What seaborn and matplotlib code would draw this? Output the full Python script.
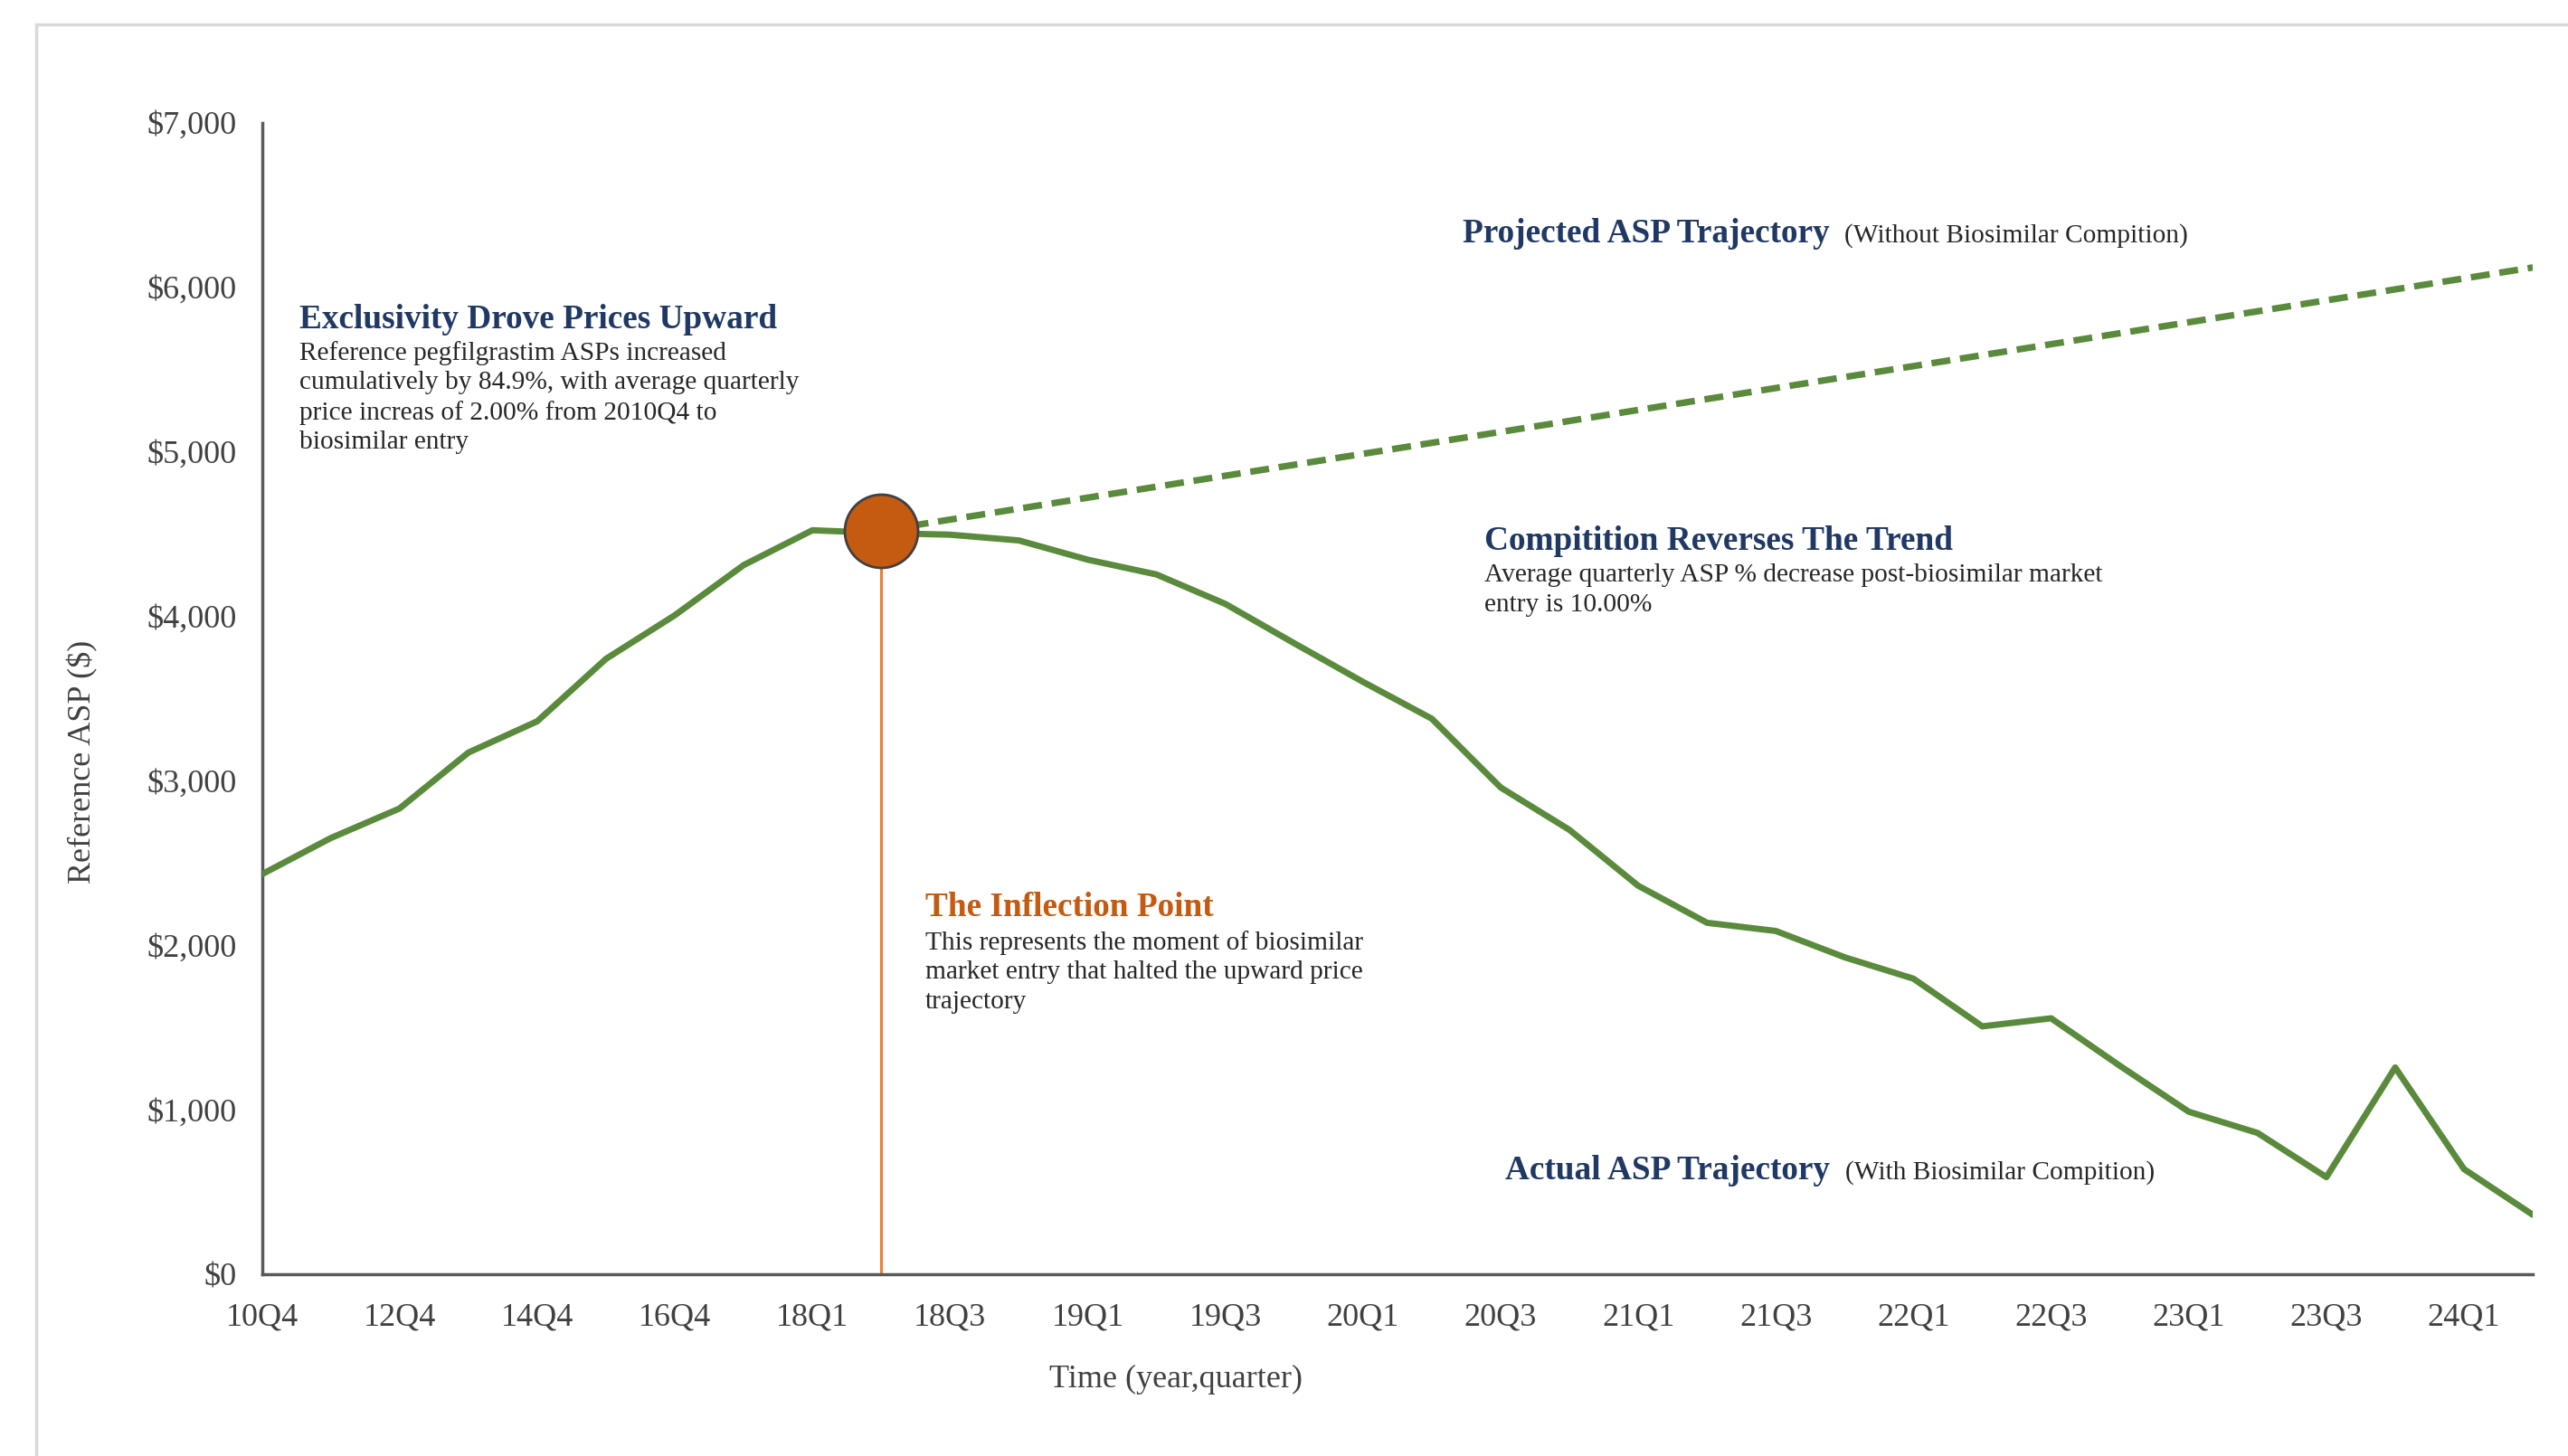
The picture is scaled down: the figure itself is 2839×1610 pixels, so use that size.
"""
Reference pegfilgrastim ASP: actual trajectory vs projected (no biosimilar competition).
"""
import matplotlib
matplotlib.use("Agg")  # Non-interactive backend
import matplotlib.pyplot as plt
from matplotlib.lines import Line2D
from matplotlib.ticker import FuncFormatter
import pandas as pd
import seaborn as sns

# ── Data ─────────────────────────────────────────────────────────────────
quarters = ["10Q4", "11Q4", "12Q4", "13Q4", "14Q4", "15Q4", "16Q4", "17Q4",
            "18Q1", "18Q2", "18Q3", "18Q4", "19Q1", "19Q2", "19Q3", "19Q4",
            "20Q1", "20Q2", "20Q3", "20Q4", "21Q1", "21Q2", "21Q3", "21Q4",
            "22Q1", "22Q2", "22Q3", "22Q4", "23Q1", "23Q2", "23Q3", "23Q4",
            "24Q1", "24Q2"]
actual_asp = [2430, 2650, 2830, 3170, 3360, 3740, 4005, 4310,
              4522, 4505, 4495, 4460, 4343, 4253, 4074, 3835,
              3600, 3376, 2958, 2700, 2360, 2135, 2085, 1925,
              1795, 1505, 1554, 1265, 986, 857, 588, 1255,
              637, 359]

projected_quarters = ["18Q2", "24Q2"]
projected_asp = [4520, 6120]

entry_quarter = "18Q2"
entry_asp = 4520

tick_labels = quarters[::2]
y_ticks = [0, 1000, 2000, 3000, 4000, 5000, 6000, 7000]

# ── Style ────────────────────────────────────────────────────────────────
GREEN = "#5a8a3c"
NAVY = "#1f3864"
ORANGE_DARK = "#c55a11"
ORANGE_LINE = "#ed7d31"
BODY = "#262626"
GREY = "#404040"
SPINE = "#595959"
TITLE_SIZE = 26.8
BODY_SIZE = 21.2
LINE_SP = 1.32

sns.set_style("white")
plt.rcParams["font.family"] = ["Liberation Serif", "DejaVu Serif"]

pos = {q: i for i, q in enumerate(quarters)}
actual_df = pd.DataFrame({"pos": [pos[q] for q in quarters], "asp": actual_asp})
proj_df = pd.DataFrame({"pos": [pos[q] for q in projected_quarters], "asp": projected_asp})

fig = plt.figure(figsize=(28.39, 16.10), dpi=100)
ax = fig.add_axes([0.102, 0.1251, 0.8843, 0.7906])

sns.lineplot(data=proj_df, x="pos", y="asp", ax=ax, color=GREEN, linewidth=5.2,
             linestyle=(0, (2.9, 1.5)), zorder=3)
sns.lineplot(data=actual_df, x="pos", y="asp", ax=ax, color=GREEN, linewidth=5,
             zorder=4)

# inflection marker + leader line
ax.vlines(pos[entry_quarter], 0, entry_asp, color=ORANGE_LINE, linewidth=2.2, zorder=2)
sns.scatterplot(x=[pos[entry_quarter]], y=[entry_asp], ax=ax, s=3400,
                color=ORANGE_DARK, edgecolor=GREY, linewidth=2, zorder=6)

# axes
ax.set_xlim(0, len(quarters) - 1)
ax.set_ylim(0, 7000)
ax.set_xticks(range(0, len(quarters), 2))
ax.set_xticklabels(tick_labels)
ax.set_yticks(y_ticks)
ax.yaxis.set_major_formatter(FuncFormatter(lambda v, _: f"${v:,.0f}"))
ax.tick_params(axis="both", direction="out", length=8, width=1.8, color=SPINE,
               labelsize=26, labelcolor=GREY)
ax.tick_params(axis="x", pad=15)
ax.tick_params(axis="y", pad=12)
for side in ["top", "right"]:
    ax.spines[side].set_visible(False)
for side in ["left", "bottom"]:
    ax.spines[side].set_color(SPINE)
    ax.spines[side].set_linewidth(2.5)

ax.set_xlabel("Time (year,quarter)", fontsize=26, color=GREY)
ax.xaxis.set_label_coords(0.4025, -0.079)
ax.set_ylabel("Reference ASP ($)", fontsize=26, color=GREY)
ax.yaxis.set_label_coords(-0.072, 0.445)

# ── Annotations ──────────────────────────────────────────────────────────
ax.text(0.55, 5800, "Exclusivity Drove Prices Upward", fontsize=TITLE_SIZE,
        fontweight="bold", color=NAVY, va="center", ha="left")
ax.text(0.55, 5675,
        "Reference pegfilgrastim ASPs increased\n"
        "cumulatively by 84.9%, with average quarterly\n"
        "price increas of 2.00% from 2010Q4 to\n"
        "biosimilar entry",
        fontsize=BODY_SIZE, color=BODY, va="top", ha="left", linespacing=LINE_SP)

t_proj = ax.text(17.45, 6275, "Projected ASP Trajectory", fontsize=TITLE_SIZE,
                 fontweight="bold", color=NAVY, va="baseline", ha="left")
ax.annotate("(Without Biosimilar Compition)", xy=(1, 6275), xycoords=(t_proj, "data"),
            xytext=(12, 0), textcoords="offset points", fontsize=BODY_SIZE, color=BODY,
            va="baseline", ha="left")

ax.text(17.77, 4455, "Compitition Reverses The Trend", fontsize=TITLE_SIZE,
        fontweight="bold", color=NAVY, va="center", ha="left")
ax.text(17.77, 4318,
        "Average quarterly ASP % decrease post-biosimilar market\n"
        "entry is 10.00%",
        fontsize=BODY_SIZE, color=BODY, va="top", ha="left", linespacing=LINE_SP)

ax.text(9.64, 2225, "The Inflection Point", fontsize=TITLE_SIZE, fontweight="bold",
        color=ORANGE_DARK, va="center", ha="left")
ax.text(9.64, 2088,
        "This represents the moment of biosimilar\n"
        "market entry that halted the upward price\n"
        "trajectory",
        fontsize=BODY_SIZE, color=BODY, va="top", ha="left", linespacing=LINE_SP)

t_act = ax.text(18.07, 575, "Actual ASP Trajectory", fontsize=TITLE_SIZE,
                fontweight="bold", color=NAVY, va="baseline", ha="left")
ax.annotate("(With Biosimilar Compition)", xy=(1, 575), xycoords=(t_act, "data"),
            xytext=(12, 0), textcoords="offset points", fontsize=BODY_SIZE, color=BODY,
            va="baseline", ha="left")

# light frame of the chart area
fig.add_artist(Line2D([40 / 2839, 1.0], [1 - 27 / 1610] * 2, color="#d9d9d9", lw=2.5))
fig.add_artist(Line2D([40 / 2839] * 2, [0.0, 1 - 27 / 1610], color="#d9d9d9", lw=2.5))

fig.savefig("out.png", dpi=100)
plt.close(fig)
